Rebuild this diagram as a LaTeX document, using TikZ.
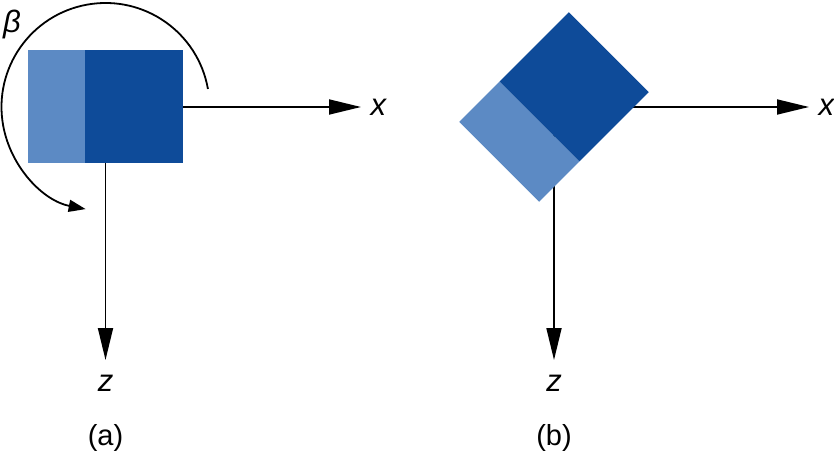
\documentclass[tikz,border=0pt]{standalone}
\usepackage{fontspec}
\setmainfont{Liberation Sans}
\usetikzlibrary{arrows.meta}
\definecolor{darkblue}{RGB}{14,75,153}
\definecolor{lightblue}{RGB}{92,138,196}
\begin{document}
\begin{tikzpicture}[x=1pt,y=-1pt,
  axis/.style={line width=1.8pt,-{Triangle[length=32pt,width=15pt]}},
  lbl/.style={font=\fontsize{31}{36}\selectfont\itshape},
  caption/.style={font=\fontsize{29}{34}\selectfont}]
\useasboundingbox (0,0) rectangle (834,457);
% (a)
\coordinate (Oa) at (105.5,107);
\coordinate (xa) at (361,107);
\coordinate (za) at (105.5,360);
\draw[axis] (Oa) -- (xa);
\draw[axis] (Oa) -- (za);
\fill[lightblue] (28,50) rectangle (85,163);
\fill[darkblue] (85,50) rectangle (183,163);
\draw[line width=1.8pt,-{Triangle[length=17pt,width=12pt]}] (Oa) ++(10:104pt) arc[start angle=10,end angle=259,radius=104pt];
\node[lbl] (beta) at (12,24) {β};
\node[lbl,anchor=west] (xla) at (367,107) {x};
\node[lbl] (zla) at (105.5,383) {z};
\node[caption] (capa) at (105.5,438) {(a)};
% (b)
\coordinate (Ob) at (554,107);
\coordinate (xb) at (809,107);
\coordinate (zb) at (554,360);
\draw[axis] (Ob) -- (xb);
\draw[axis] (Ob) -- (zb);
\begin{scope}[shift={(Ob)},rotate=45]
\fill[lightblue] (-77.5,-56.5) rectangle (-20.5,56.5);
\fill[darkblue] (-20.5,-56.5) rectangle (77.5,56.5);
\end{scope}
\node[lbl,anchor=west] (xlb) at (815,107) {x};
\node[lbl] (zlb) at (554,383) {z};
\node[caption] (capb) at (554,438) {(b)};
\end{tikzpicture}
\end{document}
